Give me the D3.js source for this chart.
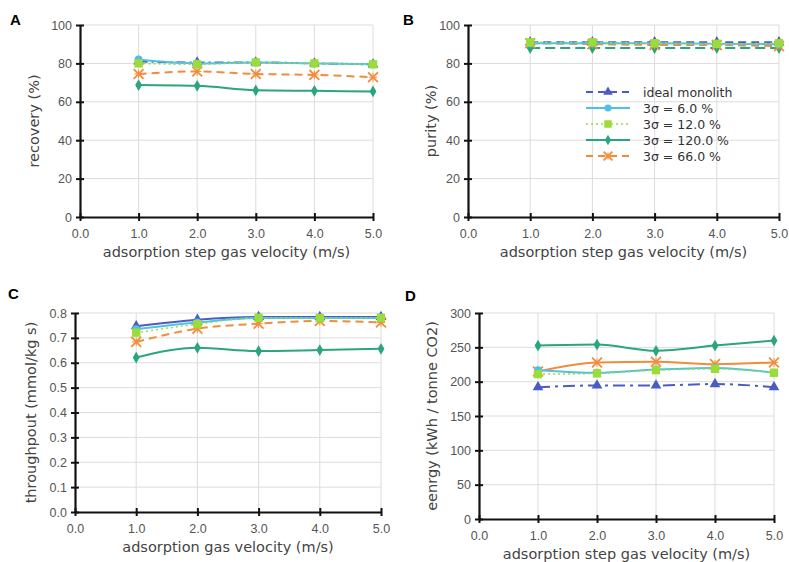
<!DOCTYPE html>
<html>
<head>
<meta charset="utf-8">
<script src="https://cdn.jsdelivr.net/npm/d3@7"></script>
<style>
  body { margin: 0; background: #fff; }
  svg { font-family: "DejaVu Sans", Verdana, sans-serif; }
  .tick text { fill: #555; font-size: 12.5px; }
  .axis-title { fill: #444; font-size: 14.5px; }
  .panel-label { font-family: "Liberation Sans", Arial, sans-serif; font-weight: bold; font-size: 15px; }
</style>
</head>
<body>
<svg id="chart" width="789" height="562"></svg>
<script>
const velocities = [1, 2, 3, 4, 5];
const seriesNames = ["ideal monolith", "3σ = 6.0 %", "3σ = 12.0 %", "3σ = 120.0 %", "3σ = 66.0 %"];

// panel A - recovery (%)
const recoveryIdeal = [81, 80.5, 80.5, 80, 79.5];
const recovery6 = [82, 80, 80.5, 80, 79.5];
const recovery12 = [80, 79.5, 80.5, 80, 79.5];
const recovery120 = [68.7, 68.3, 66, 65.7, 65.4];
const recovery66 = [74.5, 75.8, 74.5, 74, 72.8];

// panel B - purity (%)
const purityIdeal = [91, 91, 91, 91, 91];
const purity6 = [90.5, 90.5, 90.5, 90.2, 90];
const purity12 = [91, 91, 90.5, 90.2, 90.5];
const purity120 = [88, 88, 88, 88, 88];
const purity66 = [90.5, 90, 89.6, 89.5, 89];

// panel C - throughput (mmol/kg s)
const throughputIdeal = [0.747, 0.773, 0.784, 0.784, 0.784];
const throughput6 = [0.735, 0.762, 0.78, 0.78, 0.78];
const throughput12 = [0.721, 0.755, 0.781, 0.78, 0.781];
const throughput120 = [0.621, 0.66, 0.647, 0.651, 0.656];
const throughput66 = [0.684, 0.737, 0.757, 0.768, 0.762];

// panel D - energy (kWh / tonne CO2)
const energyIdeal = [192, 194.5, 194.5, 196.5, 192];
const energy6 = [216.7, 213, 217.7, 220, 213];
const energy12 = [211, 212, 216.7, 218.7, 213];
const energy120 = [252.5, 254, 245, 252.5, 259.8];
const energy66 = [214.8, 228, 229, 225.5, 228];

const xTicks = [0, 1, 2, 3, 4, 5];

const STYLE = [
  { color: "#4a5cc4", dash: "9,4,2,4", marker: "triangle", w: 2 },
  { color: "#4fc0e8", dash: null, marker: "circle", w: 2 },
  { color: "#9bdc3a", dash: "2,3", marker: "square", w: 1.5 },
  { color: "#2aa67c", dash: null, marker: "diamond", w: 2 },
  { color: "#f28c3c", dash: "8,5", marker: "cross", w: 2 }
];

const svg = d3.select("#chart");

const panels = [
  { label: "A", lx: 10, ly: 25, x0: 80, x1: 373, y0: 217, y1: 25, ymax: 100, yticks: [0, 20, 40, 60, 80, 100], ytOff: 46,
    yfmt: d3.format("d"), ytitle: "recovery (%)", xtitle: "adsorption step gas velocity (m/s)",
    data: [recoveryIdeal, recovery6, recovery12, recovery120, recovery66] },
  { label: "B", lx: 403, ly: 25, x0: 468, x1: 779, y0: 217, y1: 25, ymax: 100, yticks: [0, 20, 40, 60, 80, 100], ytOff: 37,
    yfmt: d3.format("d"), ytitle: "purity (%)", xtitle: "adsorption step gas velocity (m/s)",
    data: [purityIdeal, purity6, purity12, purity120, purity66], dashes: [ "8,5", null, "2,3", "10,5", "8,5"], legend: true },
  { label: "C", lx: 8, ly: 299, x0: 75, x1: 381, y0: 512, y1: 313, ymax: 0.8, yticks: d3.range(0, 0.81, 0.1), ytOff: 44,
    yfmt: d3.format(".1f"), ytitle: "throughpout (mmol/kg s)", xtitle: "adsorption gas velocity (m/s)",
    data: [throughputIdeal, throughput6, throughput12, throughput120, throughput66], dashes: [null, null, "2,3", null, "8,5"] },
  { label: "D", lx: 405, ly: 301, x0: 479, x1: 774, y0: 519, y1: 313, ymax: 300, yticks: [0, 50, 100, 150, 200, 250, 300], ytOff: 47,
    yfmt: d3.format("d"), ytitle: "eenrgy (kWh / tonne CO2)", xtitle: "adsorption step gas velocity (m/s)",
    data: [energyIdeal, energy6, energy12, energy120, energy66], dashes: ["12,5,3,5", null, "2,3", null, null] }
];

function drawMarker(g, type, color, size) {
  if (type === "cross") {
    g.append("path")
      .attr("d", d3.symbol().type(d3.symbolTimes).size(size * 1.3))
      .attr("fill", "none").attr("stroke", color).attr("stroke-width", 1.8);
    g.append("path")
      .attr("d", d3.symbol().type(d3.symbolPlus).size(size * 0.5))
      .attr("fill", "none").attr("stroke", color).attr("stroke-width", 1);
    return;
  }
  const sym = { triangle: d3.symbolTriangle, circle: d3.symbolCircle, square: d3.symbolSquare, diamond: d3.symbolDiamond }[type];
  const sz = type === "square" ? size * 1.4 : type === "diamond" ? size * 0.8 : size;
  g.append("path").attr("d", d3.symbol().type(sym).size(sz)).attr("fill", color);
}

panels.forEach(p => {
  const x = d3.scaleLinear().domain([0, 5]).range([p.x0, p.x1]);
  const y = d3.scaleLinear().domain([0, p.ymax]).range([p.y0, p.y1]);
  const g = svg.append("g");

  // grid
  g.append("g").selectAll("line").data(xTicks.slice(1)).join("line")
    .attr("x1", d => x(d)).attr("x2", d => x(d)).attr("y1", p.y0).attr("y2", p.y1)
    .attr("stroke", "#dcdcdc").attr("stroke-width", 1);
  g.append("g").selectAll("line").data(p.yticks.slice(1)).join("line")
    .attr("x1", p.x0).attr("x2", p.x1).attr("y1", d => y(d)).attr("y2", d => y(d))
    .attr("stroke", "#dcdcdc").attr("stroke-width", 1);

  // axes
  const xAxis = d3.axisBottom(x).tickValues(xTicks).tickFormat(d3.format(".1f")).tickSizeInner(4).tickSizeOuter(0).tickPadding(8);
  const gx = g.append("g").attr("transform", `translate(0,${p.y0})`).call(xAxis);
  gx.selectAll(".tick line").attr("y1", -4).attr("stroke", "#111").attr("stroke-width", 2);
  gx.select(".domain").attr("stroke", "#111").attr("stroke-width", 2.2);

  const yAxis = d3.axisLeft(y).tickValues(p.yticks).tickFormat(p.yfmt).tickSizeInner(4).tickSizeOuter(0).tickPadding(4);
  const gy = g.append("g").attr("transform", `translate(${p.x0},0)`).call(yAxis);
  gy.selectAll(".tick line").attr("x1", 4).attr("stroke", "#111").attr("stroke-width", 2);
  gy.select(".domain").attr("stroke", "#111").attr("stroke-width", 2.2);
  gx.selectAll(".tick text").attr("font-family", null).attr("font-size", null);
  gy.selectAll(".tick text").attr("font-family", null).attr("font-size", null);

  g.append("text").attr("class", "axis-title")
    .attr("x", (p.x0 + p.x1) / 2).attr("y", p.y0 + 40).attr("text-anchor", "middle").text(p.xtitle);
  g.append("text").attr("class", "axis-title")
    .attr("transform", `translate(${p.x0 - p.ytOff + 5},${(p.y0 + p.y1) / 2}) rotate(-90)`)
    .attr("text-anchor", "middle").text(p.ytitle);
  g.append("text").attr("class", "panel-label").attr("x", p.lx).attr("y", p.ly).text(p.label);

  // series: draw in order so later series sit on top
  const order = [3, 4, 0, 1, 2];
  const line = d3.line().x((d, i) => x(velocities[i])).y(d => y(d)).curve(d3.curveMonotoneX);
  order.forEach(si => {
    const st = STYLE[si];
    const dash = p.dashes ? p.dashes[si] : st.dash;
    g.append("path").datum(p.data[si])
      .attr("d", line).attr("fill", "none")
      .attr("stroke", st.color).attr("stroke-width", st.w)
      .attr("stroke-dasharray", dash);
    g.append("g").selectAll("g").data(p.data[si]).join("g")
      .attr("transform", (d, i) => `translate(${x(velocities[i])},${y(d)})`)
      .each(function () { drawMarker(d3.select(this), st.marker, st.color, 50); });
  });

  if (p.legend) {
    const lg = g.append("g").attr("transform", "translate(586,92)");
    seriesNames.forEach((name, i) => {
      const st = STYLE[i];
      const row = lg.append("g").attr("transform", `translate(0,${i * 16})`);
      row.append("line").attr("x1", 0).attr("x2", 44).attr("y1", 0).attr("y2", 0)
        .attr("stroke", st.color).attr("stroke-width", st.w).attr("stroke-dasharray", st.dash ? "7,5" : null)
        .attr("stroke-dasharray", i === 2 ? "2,3" : (st.dash ? "7,5" : null));
      drawMarker(row.append("g").attr("transform", "translate(22,0)"), st.marker, st.color, 40);
      row.append("text").attr("x", 57).attr("y", 4.5).attr("font-size", 12.5).attr("fill", "#333").text(name);
    });
  }
});
</script>
</body>
</html>
